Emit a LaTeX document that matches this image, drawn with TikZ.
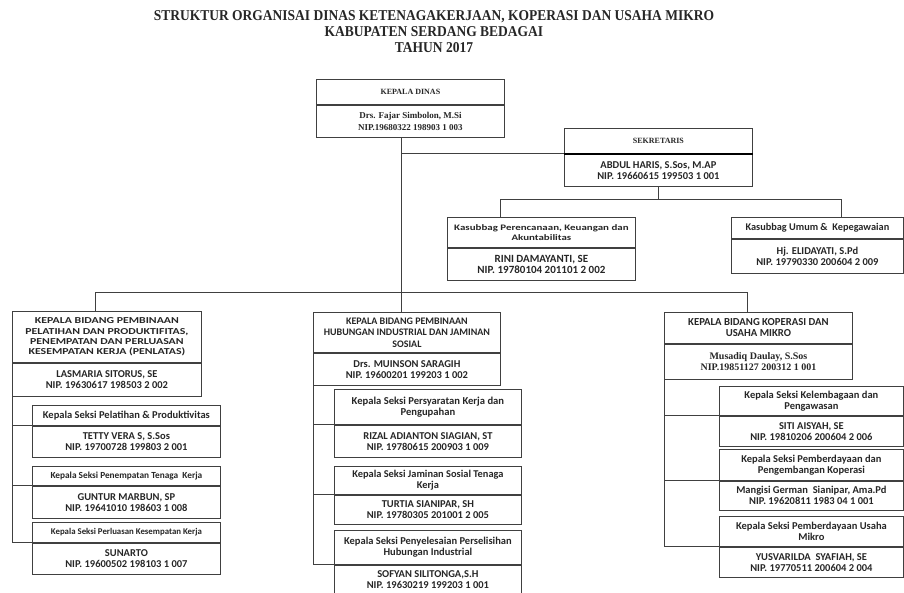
\documentclass[tikz,border=0pt]{standalone}
\usepackage{fontspec}
\setmainfont{Carlito}
\newfontfamily\wide[FakeStretch=1.3]{Carlito}
\newfontfamily\serifb{Liberation Serif}
\newfontfamily\titlefont[FakeStretch=0.9]{Liberation Serif}
\usetikzlibrary{positioning}

\begin{document}
\begin{tikzpicture}[x=1pt, y=-1pt,
    box/.style 2 args={draw=black!75, line width=0.8pt, inner sep=1pt, align=center,
      minimum width=#1, minimum height=#2, text=black!85,
      font=\bfseries\fontsize{10.5}{11}\selectfont},
    fs/.style={font=\bfseries\fontsize{#1}{11}\selectfont},
    serif/.style={font=\serifb\bfseries\fontsize{#1}{11.5}\selectfont},
    link/.style={draw=black!75, line width=0.8pt}]
    \useasboundingbox (0,0) rectangle (904,593);
    \node[align=center, text=black!85, font=\titlefont\bfseries\fontsize{15}{16}\selectfont] (title) at (434,32)
      {STRUKTUR ORGANISAI DINAS KETENAGAKERJAAN, KOPERASI DAN USAHA MIKRO\\
       KABUPATEN SERDANG BEDAGAI\\ TAHUN 2017};
    % pimpinan
    \node[box={188pt}{25pt}, serif=8, anchor=north west] (kd) at (316,79) {KEPALA DINAS};
    \node[box={188pt}{32pt}, serif=9, below=0pt of kd] (kdn) {Drs. Fajar Simbolon, M.Si\\ NIP.19680322 198903 1 003};
    \node[box={188pt}{25pt}, serif=8, anchor=north west] (sk) at (564,128) {SEKRETARIS};
    \node[box={188pt}{32pt}, below=0pt of sk] (skn) {ABDUL HARIS, S.Sos, M.AP\\ NIP. 19660615 199503 1 001};
    \draw[line width=1.8pt] (sk.south west) -- (sk.south east);
    \node[box={188pt}{30pt}, font=\wide\bfseries\fontsize{8.4}{9.5}\selectfont, anchor=north west] (ks1) at (447,217)
      {Kasubbag Perencanaan, Keuangan dan\\ Akuntabilitas};
    \node[box={188pt}{32pt}, fs=11, below=0pt of ks1] (ks1n) {RINI DAMAYANTI, SE\\ NIP. 19780104 201101 2 002};
    \node[box={172pt}{21pt}, fs=10.3, anchor=north west] (ks2) at (731,217) {Kasubbag Umum \&\ \ Kepegawaian};
    \node[box={172pt}{34pt}, below=0pt of ks2] (ks2n) {Hj. ELIDAYATI, S.Pd\\ NIP. 19790330 200604 2 009};
    % bidang
    \node[box={189pt}{51pt}, font=\wide\bfseries\fontsize{9.1}{10.3}\selectfont, anchor=north west] (b1) at (12,311)
      {KEPALA BIDANG PEMBINAAN\\ PELATIHAN DAN PRODUKTIFITAS,\\ PENEMPATAN DAN PERLUASAN\\ KESEMPATAN KERJA (PENLATAS)};
    \node[box={189pt}{33pt}, below=0pt of b1] (b1n) {LASMARIA SITORUS, SE\\ NIP. 19630617 198503 2 002};
    \node[box={187pt}{40pt}, font=\bfseries\fontsize{10}{11.5}\selectfont, anchor=north west] (b2) at (313,312)
      {KEPALA BIDANG PEMBINAAN\\ HUBUNGAN INDUSTRIAL DAN JAMINAN\\ SOSIAL};
    \node[box={187pt}{32pt}, below=0pt of b2] (b2n) {Drs. MUINSON SARAGIH\\ NIP. 19600201 199203 1 002};
    \node[box={188pt}{31pt}, fs=10.7, anchor=north west] (b3) at (664,312) {KEPALA BIDANG KOPERASI DAN\\ USAHA MIKRO};
    \node[box={188pt}{35pt}, serif=10, below=0pt of b3] (b3n) {Musadiq Daulay, S.Sos\\ NIP.19851127 200312 1 001};
    % seksi bidang 1
    \node[box={188pt}{20pt}, anchor=north west] (s11) at (32,405) {Kepala Seksi Pelatihan \& Produktivitas};
    \node[box={188pt}{31pt}, below=0pt of s11] (s11n) {TETTY VERA S, S.Sos\\ NIP. 19700728 199803 2 001};
    \node[box={188pt}{19pt}, fs=9.3, anchor=north west] (s12) at (32,466) {Kepala Seksi Penempatan Tenaga\ \ Kerja};
    \node[box={188pt}{32pt}, below=0pt of s12] (s12n) {GUNTUR MARBUN, SP\\ NIP. 19641010 198603 1 008};
    \node[box={188pt}{20pt}, fs=8.8, anchor=north west] (s13) at (32,522) {Kepala Seksi Perluasan Kesempatan Kerja};
    \node[box={188pt}{31pt}, below=0pt of s13] (s13n) {SUNARTO\\ NIP. 19600502 198103 1 007};
    % seksi bidang 2
    \node[box={187pt}{35pt}, fs=10.6, anchor=north west] (s21) at (334,389) {Kepala Seksi Persyaratan Kerja dan\\ Pengupahan};
    \node[box={187pt}{32pt}, below=0pt of s21] (s21n) {RIZAL ADIANTON SIAGIAN, ST\\ NIP. 19780615 200903 1 009};
    \node[box={187pt}{28pt}, fs=10.4, anchor=north west] (s22) at (334,466) {Kepala Seksi Jaminan Sosial Tenaga\\ Kerja};
    \node[box={187pt}{29pt}, below=0pt of s22] (s22n) {TURTIA SIANIPAR, SH\\ NIP. 19780305 201001 2 005};
    \node[box={187pt}{34pt}, anchor=north west] (s23) at (334,530) {Kepala Seksi Penyelesaian Perselisihan\\ Hubungan Industrial};
    \node[box={187pt}{29pt}, below=0pt of s23] (s23n) {SOFYAN SILITONGA,S.H\\ NIP. 19630219 199203 1 001};
    % seksi bidang 3
    \node[box={184pt}{29pt}, anchor=north west] (s31) at (719,386) {Kepala Seksi Kelembagaan dan\\ Pengawasan};
    \node[box={184pt}{30pt}, below=0pt of s31] (s31n) {SITI AISYAH, SE\\ NIP. 19810206 200604 2 006};
    \node[box={184pt}{31pt}, anchor=north west] (s32) at (719,449) {Kepala Seksi Pemberdayaan dan\\ Pengembangan Koperasi};
    \node[box={184pt}{29pt}, below=0pt of s32] (s32n) {Mangisi German\ \ Sianipar, Ama.Pd\\ NIP. 19620811 1983 04 1 001};
    \node[box={184pt}{30pt}, anchor=north west] (s33) at (719,516) {Kepala Seksi Pemberdayaan Usaha\\ Mikro};
    \node[box={184pt}{30pt}, below=0pt of s33] (s33n) {YUSVARILDA\ \ SYAFIAH, SE\\ NIP. 19770511 200604 2 004};
    % garis
    \coordinate (trunk) at (401,292);
    \coordinate (sa) at (500,199);
    \coordinate (sb) at (841,199);
    \coordinate (busl) at (95,292);
    \coordinate (busr) at (747,292);
    \draw[link] (kdn.south -| trunk) -- (b2.north -| trunk);
    \draw[link] (trunk |- sk.south west) -- (sk.south west);
    \draw[link] (skn.south) -- (skn.south |- sa);
    \draw[link] (ks1.north -| sa) -- (sa) -- (sb) -- (ks2.north -| sb);
    \draw[link] (b1.north -| busl) -- (busl) -- (busr) -- (b3.north -| busr);
    \foreach \c in {1,2,3} {
      \draw[link] (b\c n.south west) -- (b\c n.south west |- s\c3.south west);
      \foreach \k in {1,2,3}
        \draw[link] (b\c n.south west |- s\c\k.south west) -- (s\c\k.south west);
    }
\end{tikzpicture}
\end{document}
